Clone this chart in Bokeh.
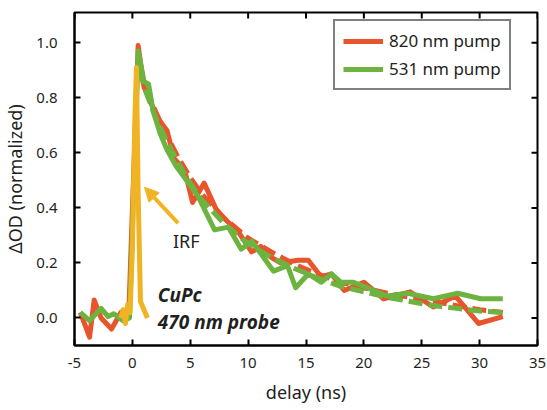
from bokeh.plotting import figure
from bokeh.models import (Range1d, FixedTicker, PrintfTickFormatter,
                          Legend, LegendItem, Arrow, NormalHead, Label)
from bokeh.embed import file_html
from bokeh.resources import INLINE

# ---------------- data ----------------
red_x = [-4.5, -3.7, -3.3, -2.7, -1.8, -1.0, -0.3, 0.5, 1.0, 1.5, 2.3, 3.0, 3.6,
         4.5, 5.2, 6.2, 7.4, 8.0, 9.2, 10.3, 11.1, 12.0, 12.8, 14.3, 15.2, 16.3,
         17.2, 18.3, 20.0, 21.7, 24.0, 26.0, 27.9, 29.9, 32.0]
red_y = [0.02, -0.07, 0.065, 0.0, -0.04, 0.02, 0.03, 0.99, 0.84, 0.79, 0.72, 0.68, 0.58,
         0.54, 0.42, 0.49, 0.38, 0.36, 0.31, 0.24, 0.26, 0.22, 0.20, 0.21, 0.21, 0.15,
         0.16, 0.10, 0.13, 0.07, 0.095, 0.04, 0.08, -0.02, 0.005]

green_x = [-4.5, -3.7, -2.7, -2.1, -1.6, -0.8, -0.25, 0.5, 1.0, 1.4, 1.8, 2.4, 3.0,
           3.8, 4.5, 5.7, 7.1, 8.3, 9.4, 10.3, 12.2, 13.4, 14.1, 15.2, 16.3, 17.2,
           18.0, 19.1, 20.3, 22.0, 23.8, 26.0, 28.1, 30.1, 32.0]
green_y = [0.02, -0.01, 0.035, 0.005, 0.015, -0.01, 0.0, 0.97, 0.86, 0.85, 0.75, 0.67, 0.61,
           0.55, 0.51, 0.44, 0.32, 0.33, 0.25, 0.28, 0.17, 0.19, 0.11, 0.16, 0.13, 0.16,
           0.13, 0.13, 0.11, 0.08, 0.09, 0.07, 0.09, 0.07, 0.07]

fit_x = [0.7, 1.0, 2.0, 3.0, 4.0, 5.0, 6.0, 8.0, 10.0, 12.0, 14.0, 16.0, 18.0,
         20.0, 22.0, 24.0, 26.0, 28.0, 30.0, 32.0]
red_fit = [0.90, 0.85, 0.75, 0.66, 0.58, 0.51, 0.45, 0.36, 0.29, 0.24, 0.195, 0.16, 0.13,
           0.11, 0.09, 0.075, 0.06, 0.045, 0.03, 0.02]
green_fit = [0.90, 0.84, 0.73, 0.64, 0.56, 0.49, 0.43, 0.34, 0.27, 0.22, 0.18, 0.145, 0.115,
             0.095, 0.075, 0.06, 0.045, 0.035, 0.025, 0.02]

irf_x = [-1.0, -0.8, -0.6, -0.4, -0.2, 0.0, 0.2, 0.35, 0.5, 0.7, 0.9, 1.1, 1.3]
irf_y = [0.0, 0.03, -0.02, 0.05, 0.02, 0.25, 0.70, 0.91, 0.45, 0.06, 0.04, 0.02, 0.0]

x_ticks = [-5, 0, 5, 10, 15, 20, 25, 30, 35]
y_ticks = [0.0, 0.2, 0.4, 0.6, 0.8, 1.0]

RED = "#E8542B"
GREEN = "#6DB33F"
YELLOW = "#F0B323"
INK = "#231F20"
FONT = "Noto Sans"

W, H = 547, 410
BL, BR, BT, BB = 73, 10, 12, 65
X0, X1 = -5, 35
Y0, Y1 = -0.1, 1.11

p = figure(width=W, height=H, output_backend="svg", toolbar_location=None,
           x_range=Range1d(X0, X1), y_range=Range1d(Y0, Y1),
           min_border_left=BL, min_border_right=BR, min_border_top=BT,
           min_border_bottom=BB, background_fill_color="white",
           border_fill_color="white")
p.grid.visible = False
p.outline_line_color = "black"
p.outline_line_width = 2

# main axes
for ax in (p.xaxis[0], p.yaxis[0]):
    ax.axis_line_color = "black"
    ax.axis_line_width = 2
    ax.major_tick_in = 6
    ax.major_tick_out = 0
    ax.major_tick_line_width = 2
    ax.minor_tick_line_color = None
    ax.major_label_text_font = FONT
    ax.major_label_text_font_size = "15px"
    ax.major_label_text_color = INK
    ax.axis_label_text_font = FONT
    ax.axis_label_text_font_size = "18px"
    ax.axis_label_text_font_style = "normal"
    ax.axis_label_text_color = INK

p.xaxis.ticker = FixedTicker(ticks=x_ticks)
p.yaxis.ticker = FixedTicker(ticks=y_ticks)
p.xaxis.formatter = PrintfTickFormatter(format="%d")
p.yaxis.formatter = PrintfTickFormatter(format="%.1f")
p.xaxis.axis_label = "delay (ns)"
p.yaxis.axis_label = "ΔOD (normalized)"
p.xaxis.major_label_standoff = 12
p.xaxis.axis_label_standoff = 9
p.yaxis.major_label_standoff = 17
p.yaxis.axis_label_standoff = 6

# mirrored tick marks on the top and right edges (6 px long, from the tick lists)
tick_px = 6
dx = tick_px * (X1 - X0) / (W - BL - BR)
dy = tick_px * (Y1 - Y0) / (H - BT - BB)
p.segment(x0=x_ticks, y0=[Y1] * len(x_ticks), x1=x_ticks, y1=[Y1 - dy] * len(x_ticks),
          line_color="black", line_width=2)
p.segment(x0=[X1] * len(y_ticks), y0=y_ticks, x1=[X1 - dx] * len(y_ticks), y1=y_ticks,
          line_color="black", line_width=2)

lw = 5
r_red = p.line(red_x, red_y, line_color=RED, line_width=lw, line_join="round")
p.line(fit_x, red_fit, line_color=RED, line_width=lw, line_dash="14 6")
r_green = p.line(green_x, green_y, line_color=GREEN, line_width=lw, line_join="round")
p.line(fit_x, green_fit, line_color=GREEN, line_width=lw, line_dash="14 6")
p.line(irf_x, irf_y, line_color=YELLOW, line_width=lw, line_join="round")

# IRF arrow and labels
p.add_layout(Arrow(end=NormalHead(size=14, fill_color=YELLOW, line_color=YELLOW),
                   x_start=3.95, y_start=0.345, x_end=1.05, y_end=0.475,
                   line_color=YELLOW, line_width=4))
p.add_layout(Label(x=3.5, y=0.28, text="IRF", text_font=FONT, text_font_size="18px",
                   text_color=INK, text_baseline="middle"))
p.add_layout(Label(x=2.2, y=0.085, text="CuPc", text_font=FONT, text_font_size="19px",
                   text_font_style="bold italic", text_color=INK, text_baseline="middle"))
p.add_layout(Label(x=2.2, y=-0.015, text="470 nm probe", text_font=FONT,
                   text_font_size="19px", text_font_style="bold italic", text_color=INK,
                   text_baseline="middle"))

legend = Legend(items=[LegendItem(label="820 nm pump", renderers=[r_red]),
                       LegendItem(label="531 nm pump", renderers=[r_green])],
                location=(259, 255))
legend.border_line_color = "black"
legend.border_line_width = 2
legend.label_text_font = FONT
legend.label_text_font_size = "17px"
legend.label_text_color = INK
legend.glyph_width = 40
legend.label_standoff = 6
legend.padding = 8
legend.spacing = 5
legend.margin = 0
legend.background_fill_alpha = 1
p.add_layout(legend, "center")

open("out.html", "w").write(file_html(p, INLINE))
